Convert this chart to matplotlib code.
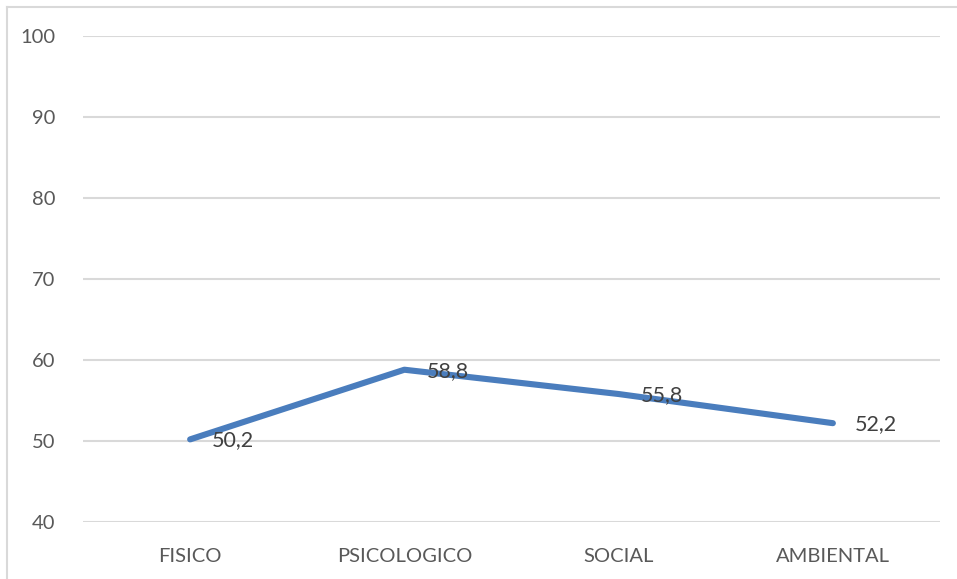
import matplotlib
matplotlib.use("Agg")
import matplotlib.pyplot as plt
from matplotlib.lines import Line2D

plt.rcParams['font.family'] = ['Lato', 'DejaVu Sans']

categories = ['FISICO', 'PSICOLOGICO', 'SOCIAL', 'AMBIENTAL']
values = [50.2, 58.8, 55.8, 52.2]
labels = ['50,2', '58,8', '55,8', '52,2']
yticks = [40, 50, 60, 70, 80, 90, 100]

fig = plt.figure(figsize=(9.57, 5.79), dpi=100)
ax = fig.add_axes([83/957, 57/579, (940-83)/957, (522-36)/579])

x = range(len(categories))
ax.plot(x, values, color='#4a7dbd', lw=4.4, solid_capstyle='round', solid_joinstyle='round', zorder=3)
for xi, v, lab in zip(x, values, labels):
    ax.annotate(lab, (xi, v), xytext=(22, -1), textcoords='offset pixels',
                ha='left', va='center', fontsize=15.5, color='#404040', zorder=4)

ax.set_xlim(-0.5, 3.5)
ax.set_ylim(40, 100)
ax.set_yticks(yticks)
ax.set_xticks(list(x))
ax.set_xticklabels(categories)
ax.grid(axis='y', color='#d9d9d9', lw=1.5)
ax.set_axisbelow(True)
for s in ax.spines.values():
    s.set_visible(False)
ax.tick_params(axis='both', length=0, labelsize=14.5, labelcolor='#595959')
ax.tick_params(axis='y', pad=20)
ax.tick_params(axis='x', pad=19)

# chart border (left and top visible)
fig.add_artist(Line2D([7/957, 7/957], [0, 1 - 7/579], transform=fig.transFigure, color='#d9d9d9', lw=1.5))
fig.add_artist(Line2D([7/957, 1], [1 - 7/579, 1 - 7/579], transform=fig.transFigure, color='#d9d9d9', lw=1.5))

fig.savefig('out.png', dpi=100)
